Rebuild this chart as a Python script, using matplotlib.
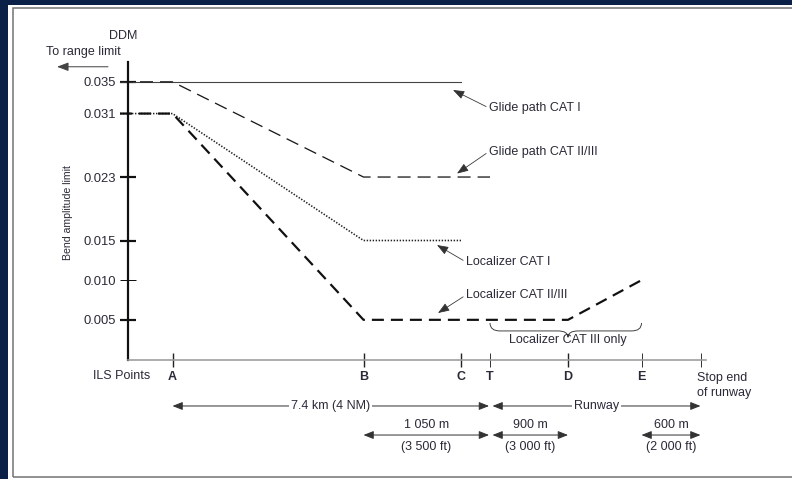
import matplotlib.pyplot as plt
from matplotlib.patches import Rectangle, PathPatch
from matplotlib.path import Path

plt.rcParams['font.family'] = ['Liberation Sans', 'DejaVu Sans']
plt.rcParams['lines.scale_dashes'] = False

# bend amplitude limit axis (DDM)
ddm_ticks = [0.005, 0.010, 0.015, 0.023, 0.031, 0.035]
ddm_labels = ['0.005', '0.010', '0.015', '0.023', '0.031', '0.035']

# ILS points along the approach (schematic spacing, not to scale)
points = ['A', 'B', 'C', 'T', 'D', 'E', 'Stop']
point_pos = [44.5, 235.5, 333, 362, 440, 513.5, 572.5]

# limit profiles: ILS points passed and DDM limit at each
glide_cat1_pts = ['O', 'C']
glide_cat1_ddm = [0.035, 0.035]
glide_cat23_pts = ['O', 'A', 'B', 'T']
glide_cat23_ddm = [0.035, 0.035, 0.023, 0.023]
loc_cat1_pts = ['O', 'A', 'B', 'C']
loc_cat1_ddm = [0.031, 0.031, 0.015, 0.015]
loc_cat23_pts = ['O', 'A', 'B', 'D', 'E']
loc_cat23_ddm = [0.031, 0.031, 0.005, 0.005, 0.010]

# distances under the axis
spans = [('A', 'T', '7.4 km (4 NM)'), ('T', 'Stop', 'Runway')]
sub_spans = [('B', 'T', '1 050 m', '(3 500 ft)'),
             ('T', 'D', '900 m', '(3 000 ft)'),
             ('E', 'Stop', '600 m', '(2 000 ft)')]

navy = '#0b2047'
txt = '#2a2a38'
fs = 12.5

fig = plt.figure(figsize=(11, 479 / 72), dpi=72)
fig.patch.set_facecolor('white')
fig.add_artist(Rectangle((0, 0), 7 / 792, 1, transform=fig.transFigure,
                         color=navy, zorder=0))
fig.add_artist(Rectangle((0, 1 - 4 / 479), 1, 4 / 479, transform=fig.transFigure,
                         color=navy, zorder=0))
fig.add_artist(Rectangle((12.5 / 792, 2.5 / 479), 1, 469 / 479,
                         transform=fig.transFigure, fill=False,
                         edgecolor='#707070', lw=1.5, zorder=0))

ax = fig.add_axes([128 / 792, 119.5 / 479, 664 / 792, 297.5 / 479])
ax.set_xlim(0, 664)
ax.set_ylim(0, 0.0375)
ax.patch.set_alpha(0)

pos = dict(zip(points, point_pos))
pos['O'] = -8

ax.plot([pos[p] for p in glide_cat1_pts], glide_cat1_ddm, color='#444444',
        lw=1.1, clip_on=False)
ax.plot([pos[p] for p in glide_cat23_pts], glide_cat23_ddm, color='#1a1a1a',
        lw=1.3, dashes=(13, 7), clip_on=False)
ax.plot([pos[p] for p in loc_cat1_pts], loc_cat1_ddm, color='#222222',
        lw=1.6, dashes=(1.4, 1.6), clip_on=False)
ax.plot([pos[p] for p in loc_cat23_pts], loc_cat23_ddm, color='#111111',
        lw=2.2, dashes=(12, 7), clip_on=False)

# axes
for s in ['top', 'right']:
    ax.spines[s].set_visible(False)
ax.spines['left'].set_linewidth(2.2)
ax.spines['left'].set_color('#111111')
ax.spines['bottom'].set_bounds(0, pos['Stop'] + 5)
ax.spines['bottom'].set_color('#9a9a9a')
ax.spines['bottom'].set_linewidth(1.6)

ax.set_yticks(ddm_ticks, ddm_labels)
ax.tick_params(axis='y', direction='inout', length=16, width=2.2, color='#111111',
               labelsize=fs + 0.5, labelcolor=txt, pad=4)
for v, t in zip(ddm_ticks, ax.yaxis.get_major_ticks()):
    if v == 0.010:
        t.tick1line.set_markeredgewidth(1)
        t.tick1line.set_color('#666666')
    if v == 0.031:
        t.tick1line.set_visible(False)

ax.set_xticks(point_pos, [p if p != 'Stop' else '' for p in points])
ax.tick_params(axis='x', direction='inout', length=14, width=1.4, color='#222222',
               labelsize=fs, labelcolor=txt, pad=5)
for lbl in ax.get_xticklabels():
    lbl.set_fontweight('bold')
for p, t in zip(points, ax.xaxis.get_major_ticks()):
    if p in ('T', 'E', 'Stop'):
        t.tick1line.set_markeredgewidth(0.9)
        t.tick1line.set_color('#777777')

ax.text(-6, -0.0021, 'ILS Points', ha='center', va='center', fontsize=fs,
        color=txt)
ax.text(pos['Stop'] - 3.5, -0.0033, 'Stop end\nof runway', ha='left',
        va='center', fontsize=fs, color=txt, linespacing=1.3)

# labels at the top-left
ax.text(-5, 0.0408, 'DDM', ha='center', va='center', fontsize=fs, color=txt)
ax.text(-45, 0.0388, 'To range limit', ha='center', va='center', fontsize=fs,
        color=txt)
ax.annotate('', xy=(-71, 0.0369), xytext=(-20, 0.0369), annotation_clip=False,
            arrowprops=dict(arrowstyle='-|>,head_length=0.8,head_width=0.3',
                            color='#444444', lw=1, mutation_scale=12,
                            shrinkA=0, shrinkB=0))
ax.text(-60, 0.0185, 'Bend amplitude limit', rotation=90, ha='center',
        va='center', fontsize=10.5, color=txt)

# curve annotations
arrow = dict(arrowstyle='-|>,head_length=0.8,head_width=0.3', color='#333333',
             lw=0.8, shrinkA=1, shrinkB=0, relpos=(0, 0.5), mutation_scale=12)
notes = [('Glide path CAT I', (325, 0.03397), (36, -18)),
         ('Glide path CAT II/III', (329, 0.02344), (32, 22)),
         ('Localizer CAT I', (309, 0.01443), (29, -17)),
         ('Localizer CAT II/III', (310, 0.00586), (28, 18))]
for label, tip, off in notes:
    ax.annotate(label, xy=tip, xytext=off, textcoords='offset points',
                ha='left', va='center', fontsize=fs, color=txt,
                arrowprops=arrow, annotation_clip=False)

# brace over CAT III segment
xl, xm, xr = pos['T'], pos['D'], pos['E']
yb, yh, yt = 0.0046, 0.0036, 0.0028
verts = [(xl, yb), (xl, yh), (xl + 10, yh), (xm - 10, yh), (xm, yh), (xm, yt),
         (xm, yh), (xm + 10, yh), (xr - 10, yh), (xr, yh), (xr, yb)]
codes = [Path.MOVETO, Path.CURVE3, Path.CURVE3, Path.LINETO, Path.CURVE3,
         Path.CURVE3, Path.CURVE3, Path.CURVE3, Path.LINETO, Path.CURVE3,
         Path.CURVE3]
ax.add_patch(PathPatch(Path(verts, codes), fill=False, edgecolor='#333333',
                       lw=0.9, clip_on=False))
ax.text(xm, 0.0025, 'Localizer CAT III only', ha='center',
        va='center', fontsize=fs, color=txt)

# distance arrows
dbl = dict(arrowstyle='<|-|>,head_length=0.7,head_width=0.28', color='#333333',
           lw=1, shrinkA=0, shrinkB=0, mutation_scale=12)
row1, row2 = -0.00586, -0.00952
gap = {'T': (-1, 2.5)}
for a, b, label in spans:
    x0 = pos[a] + (gap[a][1] if a in gap else 0)
    x1 = pos[b] + (gap[b][0] if b in gap else 0)
    ax.annotate('', xy=(x1, row1), xytext=(x0, row1), arrowprops=dbl,
                annotation_clip=False)
    ax.text((x0 + x1) / 2, row1, label, ha='center', va='center', fontsize=fs,
            color=txt, zorder=3,
            bbox=dict(facecolor='white', edgecolor='none', pad=2))
for a, b, top, bot in sub_spans:
    x0 = pos[a] + (gap[a][1] if a in gap else 0)
    x1 = pos[b] + (gap[b][0] if b in gap else 0)
    ax.annotate('', xy=(x1, row2), xytext=(x0, row2), arrowprops=dbl,
                annotation_clip=False)
    ax.text((x0 + x1) / 2, -0.00826, top, ha='center', va='center', fontsize=fs,
            color=txt)
    ax.text((x0 + x1) / 2, -0.01103, bot, ha='center', va='center', fontsize=fs,
            color=txt)

fig.savefig('out.png', dpi=72)
